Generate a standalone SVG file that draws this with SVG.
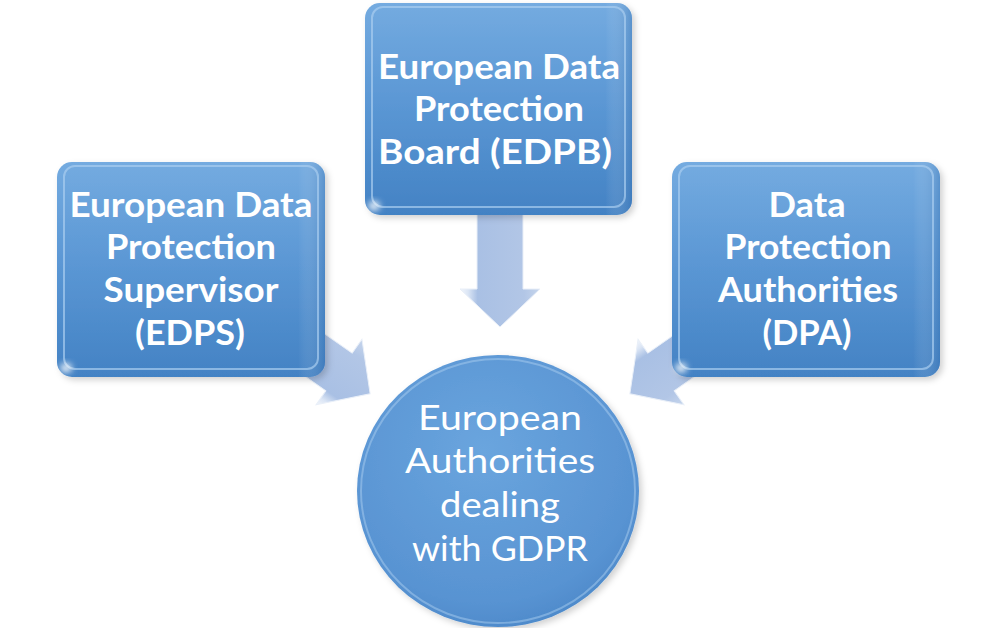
<svg xmlns="http://www.w3.org/2000/svg" width="1000" height="628" viewBox="0 0 1000 628">
<defs>
<linearGradient id="boxg" x1="0" y1="0" x2="0" y2="1">
<stop offset="0" stop-color="#74abe0"/>
<stop offset="0.45" stop-color="#5c98d5"/>
<stop offset="1" stop-color="#4382c4"/>
</linearGradient>
<linearGradient id="edgeg" x1="0" y1="0" x2="1" y2="0">
<stop offset="0" stop-color="#ffffff" stop-opacity="0"/>
<stop offset="0.9" stop-color="#ffffff" stop-opacity="0"/>
<stop offset="1" stop-color="#2f6aab" stop-opacity="0.35"/>
</linearGradient>
<radialGradient id="circg" cx="0.45" cy="0.35" r="0.7">
<stop offset="0" stop-color="#6aa5de"/>
<stop offset="0.8" stop-color="#5893d2"/>
<stop offset="1" stop-color="#4a87c8"/>
</radialGradient>
<linearGradient id="arrg" x1="0" y1="0" x2="0" y2="1">
<stop offset="0" stop-color="#c6d5ec"/>
<stop offset="0.2" stop-color="#b2c6e6"/>
<stop offset="0.78" stop-color="#a9c0e4"/>
<stop offset="0.9" stop-color="#dce6f5"/>
<stop offset="1" stop-color="#f2f6fc"/>
</linearGradient>
<filter id="blur" x="-50%" y="-50%" width="200%" height="200%"><feGaussianBlur stdDeviation="3"/></filter>
<filter id="shadow" x="-10%" y="-10%" width="125%" height="125%"><feDropShadow dx="3" dy="3" stdDeviation="3" flood-color="#000" flood-opacity="0.18"/></filter>
<path id="arrow" d="M -75 -23 L 0 -23 L 0 -40 L 38 0 L 0 40 L 0 23 L -75 23 Z"/>
</defs>
<style>
.box{fill:url(#boxg);filter:url(#shadow)}
.edge{fill:url(#edgeg)}
.hl{fill:none;stroke:#a9cdf0;stroke-width:2;stroke-opacity:0.7}
.spot{fill:#ffffff;opacity:0.85;filter:url(#blur)}
.arr{fill:url(#arrg);stroke:#e9eff8;stroke-width:1}
.tb{font-family:Lato,"Open Sans","Noto Sans",sans-serif;font-weight:bold;font-size:34px;fill:#ffffff;text-anchor:middle}
.tr{font-family:Lato,"Open Sans","Noto Sans",sans-serif;font-weight:normal;font-size:35px;fill:#ffffff;text-anchor:middle}
</style>
<rect width="1000" height="628" fill="#ffffff"/>
<g id="connectors">
<use href="#arrow" class="arr" transform="translate(500,289) rotate(90)"/>
<use href="#arrow" class="arr" transform="translate(339,372) rotate(35)"/>
<use href="#arrow" class="arr" transform="translate(661,372) rotate(145)"/>
</g>
<g id="edpb">
<rect class="box" x="365" y="3" width="267" height="212" rx="15"/>
<rect class="edge" x="365" y="3" width="267" height="212" rx="15"/>
<rect class="hl" x="372" y="7" width="253" height="200" rx="11"/>
<ellipse class="spot" cx="374" cy="206" rx="6" ry="5"/>
<text class="tb" x="499" y="79" textLength="242" lengthAdjust="spacingAndGlyphs">European Data</text>
<text class="tb" x="499" y="121" textLength="170" lengthAdjust="spacingAndGlyphs">Protection</text>
<text class="tb" x="495" y="164" textLength="234" lengthAdjust="spacingAndGlyphs">Board (EDPB)</text>
</g>
<g id="edps">
<rect class="box" x="57" y="162" width="268" height="215" rx="15"/>
<rect class="edge" x="57" y="162" width="268" height="215" rx="15"/>
<rect class="hl" x="64" y="166" width="254" height="203" rx="11"/>
<ellipse class="spot" cx="66" cy="368" rx="6" ry="5"/>
<text class="tb" x="191" y="217" textLength="243" lengthAdjust="spacingAndGlyphs">European Data</text>
<text class="tb" x="191" y="259" textLength="170" lengthAdjust="spacingAndGlyphs">Protection</text>
<text class="tb" x="191" y="302" textLength="175" lengthAdjust="spacingAndGlyphs">Supervisor</text>
<text class="tb" x="190" y="345" textLength="110" lengthAdjust="spacingAndGlyphs">(EDPS)</text>
</g>
<g id="dpa">
<rect class="box" x="672" y="162" width="268" height="215" rx="15"/>
<rect class="edge" x="672" y="162" width="268" height="215" rx="15"/>
<rect class="hl" x="679" y="166" width="254" height="203" rx="11"/>
<ellipse class="spot" cx="681" cy="368" rx="6" ry="5"/>
<text class="tb" x="807" y="217" textLength="77" lengthAdjust="spacingAndGlyphs">Data</text>
<text class="tb" x="808" y="259" textLength="167" lengthAdjust="spacingAndGlyphs">Protection</text>
<text class="tb" x="808" y="302" textLength="180" lengthAdjust="spacingAndGlyphs">Authorities</text>
<text class="tb" x="807" y="345" textLength="89" lengthAdjust="spacingAndGlyphs">(DPA)</text>
</g>
<g id="center">
<ellipse cx="498" cy="491" rx="141" ry="136" fill="url(#circg)" filter="url(#shadow)"/>
<ellipse cx="498" cy="491" rx="137" ry="132" fill="none" stroke="#a9cdf0" stroke-width="2" stroke-opacity="0.5"/>
<text class="tr" x="500" y="430" textLength="164" lengthAdjust="spacingAndGlyphs">European</text>
<text class="tr" x="500" y="473" textLength="190" lengthAdjust="spacingAndGlyphs">Authorities</text>
<text class="tr" x="500" y="517" textLength="120" lengthAdjust="spacingAndGlyphs">dealing</text>
<text class="tr" x="500" y="561" textLength="176" lengthAdjust="spacingAndGlyphs">with GDPR</text>
</g>
</svg>
